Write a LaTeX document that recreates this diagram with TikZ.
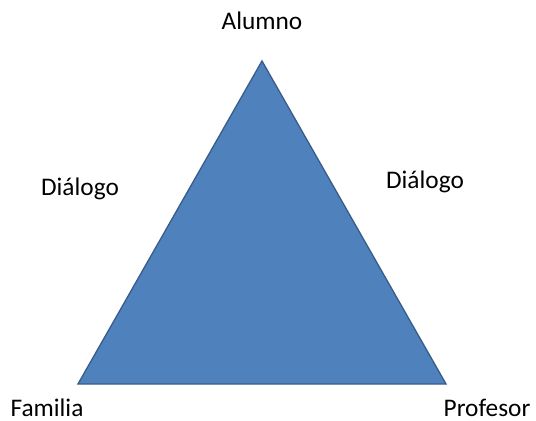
\documentclass[tikz,border=0pt]{standalone}
\usepackage{fontspec}
\setmainfont{Carlito}
\definecolor{triFill}{HTML}{4F81BD}
\definecolor{triLine}{HTML}{385D8A}
\begin{document}
\begin{tikzpicture}[x=0.75pt,y=-0.75pt,
  lbl/.style={anchor=base,inner sep=0pt,font=\fontsize{19}{21}\selectfont}]
\useasboundingbox (0,0) rectangle (536,421);
\coordinate (A) at (262,61);
\coordinate (F) at (78,384);
\coordinate (P) at (446,384);
\filldraw[fill=triFill,draw=triLine,line width=1pt,line join=miter] (A) -- (F) -- (P) -- cycle;
\node[lbl] (alumno) at (262,29) {Alumno};
\node[lbl] (dialogoL) at (80,195) {Diálogo};
\node[lbl] (dialogoR) at (425,188) {Diálogo};
\node[lbl] (familia) at (47,416) {Familia};
\node[lbl] (profesor) at (487,416) {Profesor};
\end{tikzpicture}
\end{document}
